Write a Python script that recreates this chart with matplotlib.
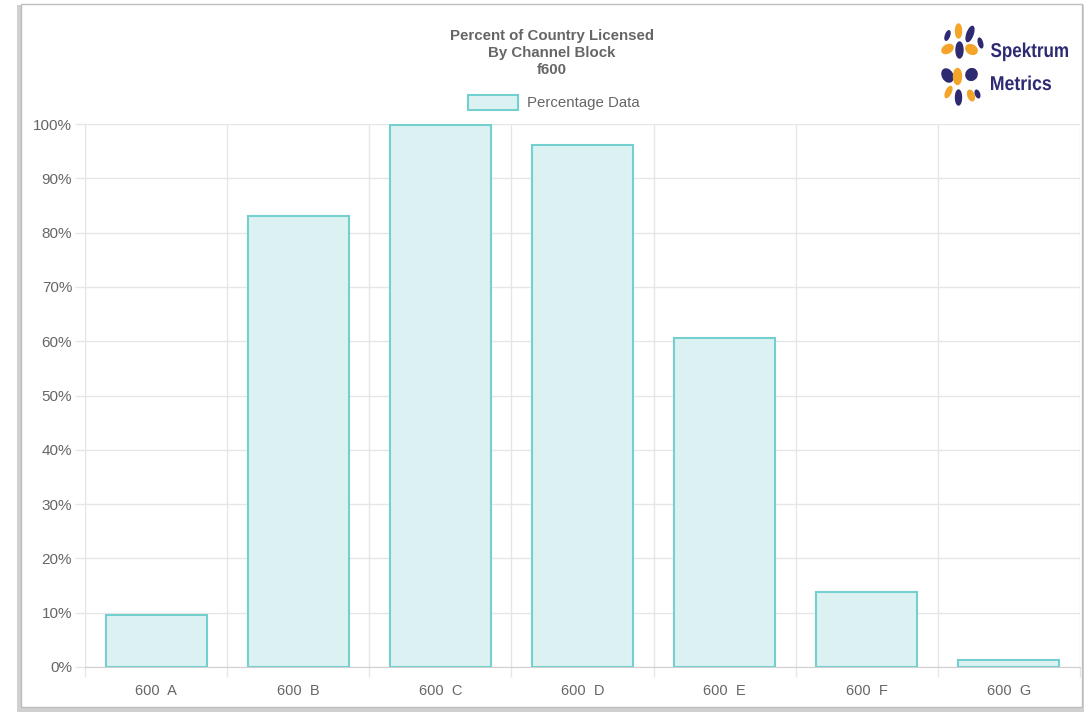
import matplotlib
matplotlib.use("Agg")
import matplotlib.pyplot as plt
from matplotlib.patches import Rectangle, Ellipse, PathPatch
from matplotlib.textpath import TextPath
from matplotlib.font_manager import FontProperties
from matplotlib.transforms import Affine2D

# ── Data ──────────────────────────────────────────────────────────────────────
categories = ["600  A", "600  B", "600  C", "600  D", "600  E", "600  F", "600  G"]
percent = [9.6, 83.1, 99.8, 96.1, 60.6, 13.8, 1.3]
yticks = list(range(0, 101, 10))

W, H = 1087, 713
FILL = "#dcf2f2"
EDGE = "#74cfcf"
GRID = "#e6e6e6"
TXT = "#666666"
NAVY = "#2d2a72"
ORANGE = "#f5a42a"

plt.rcParams["font.family"] = ["Liberation Sans", "DejaVu Sans"]

fig = plt.figure(figsize=(W / 100, H / 100), dpi=100)


def px_axes(x0, y0, x1, y1, **kw):
    # axes from pixel box (top-left origin)
    return fig.add_axes([x0 / W, 1 - y1 / H, (x1 - x0) / W, (y1 - y0) / H], **kw)


# ── screenshot frame ──────────────────────────────────────────────────────────
fig.patches.append(Rectangle((17 / W, 1 - 712 / H), 1067 / W, 707 / H,
                             transform=fig.transFigure, fc="#d0d0d0", ec="none", zorder=-2))
fig.patches.append(Rectangle((21 / W, 1 - 707 / H), 1061 / W, 703 / H,
                             transform=fig.transFigure, fc="white", ec="#bdbdbd", lw=1, zorder=-1))

# ── main chart ────────────────────────────────────────────────────────────────
ax = px_axes(85, 124, 1080, 667)
ax.patch.set_alpha(0)
x = list(range(len(categories)))
ax.bar(x, percent, width=0.71, color=FILL, edgecolor=EDGE, linewidth=1.5, zorder=3)

ax.set_xlim(-0.5, len(categories) - 0.5)
ax.set_ylim(0, 100)
ax.set_yticks(yticks)
ax.set_yticklabels([f"{v}%" for v in yticks], color=TXT, fontsize=11)
ax.set_xticks(x)
ax.set_xticklabels(categories, color=TXT, fontsize=10.5)
ax.set_xticks([i - 0.5 for i in range(len(categories) + 1)], minor=True)

# tick lengths in points (10 px at 100 dpi)
ax.tick_params(axis="x", which="major", length=0, pad=12.5)
ax.tick_params(axis="x", which="minor", length=7.2, color=GRID, width=1)
ax.tick_params(axis="y", length=7.2, color=GRID, width=1, pad=2)
ax.grid(axis="y", color=GRID, lw=1, zorder=0)
ax.grid(axis="x", which="minor", color=GRID, lw=1, zorder=0)
for side in ["top", "right"]:
    ax.spines[side].set_visible(False)
ax.spines["left"].set_color(GRID)
ax.spines["bottom"].set_color("#d0d0d0")
ax.set_axisbelow(True)

# ── title and legend ──────────────────────────────────────────────────────────
fig.text(552 / W, 1 - 53 / H, "Percent of Country Licensed\nBy Channel Block\nf600",
         ha="center", va="center", fontsize=10.8, fontweight="bold", color=TXT,
         linespacing=1.25)
fig.patches.append(Rectangle((468 / W, 1 - 110 / H), 50 / W, 15 / H,
                             transform=fig.transFigure, fc=FILL, ec=EDGE, lw=1.5))
fig.text(527 / W, 1 - 102.5 / H, "Percentage Data", ha="left", va="center",
         fontsize=10.8, color=TXT)

# ── logo ──────────────────────────────────────────────────────────────────────
lg = px_axes(935, 15, 1087, 110)
lg.set_xlim(935, 1087)
lg.set_ylim(110, 15)
lg.axis("off")
blobs = [  # (cx, cy, w, h, angle, colour) in pixels
    (958.5, 31, 6, 14, 0, ORANGE), (970, 34, 6, 16, 20, NAVY), (947.5, 35.5, 4, 10, 20, NAVY),
    (947.5, 49, 12, 8, -30, ORANGE), (959.5, 50, 7, 16, 0, NAVY), (971.5, 49.5, 12, 9, 30, ORANGE),
    (980.5, 43, 4, 10, -15, NAVY), (947.5, 75.5, 10, 14, -30, NAVY), (957.5, 76.5, 8, 16, 0, ORANGE),
    (971.5, 74.5, 11, 12, 30, NAVY), (948.5, 92, 5, 12, 25, ORANGE), (958.5, 97.5, 6, 15, 0, NAVY),
    (971, 95.5, 6, 11, -20, ORANGE), (977.5, 94, 4, 8, -20, NAVY),
]
for cx, cy, w, h, ang, col in blobs:
    lg.add_patch(Ellipse((cx, cy), w, h, angle=ang, color=col))

bold = FontProperties(family="Liberation Sans", weight="bold")
for word, x0, base, width in [("Spektrum", 991, 57, 77), ("Metrics", 991, 90, 60)]:
    tp = TextPath((0, 0), word, size=20, prop=bold)
    ext = tp.get_extents()
    sx = width / ext.width
    path = Affine2D().translate(-ext.x0, 0).scale(sx, -1.0).translate(x0, base).transform_path(tp)
    lg.add_patch(PathPatch(path, fc=NAVY, ec="none"))

fig.savefig("out.png", dpi=100)
